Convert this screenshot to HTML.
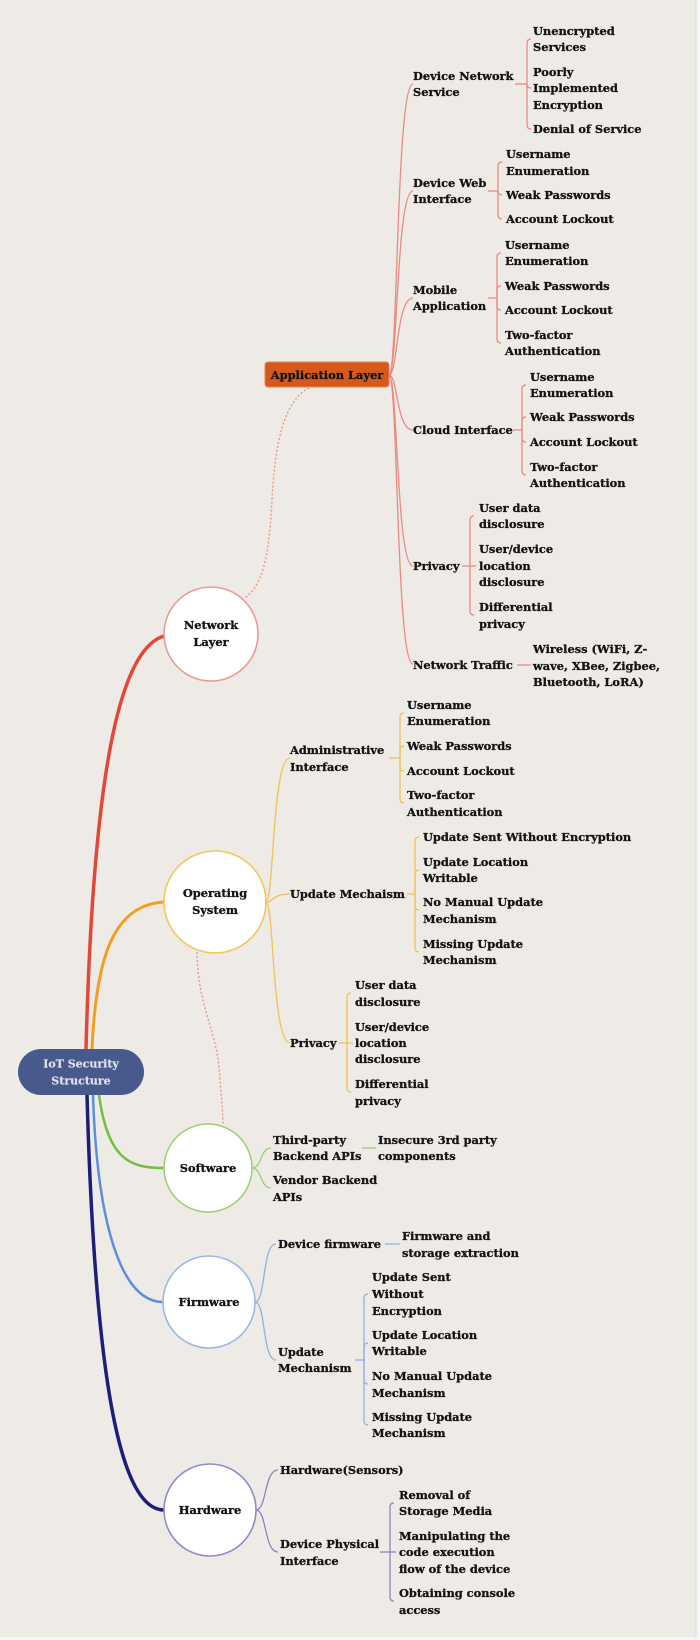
<!DOCTYPE html>
<html>
<head>
<meta charset="utf-8">
<style>
html,body{margin:0;padding:0;background:#eeeae5;}
svg{display:block;}
.t{font-family:"DejaVu Serif","Liberation Serif",serif;font-weight:bold;font-size:11.4px;fill:#141414;stroke:#141414;stroke-width:0.3;dominant-baseline:central;}
.c{text-anchor:middle;}
.r{stroke:#ea8b80;fill:none;stroke-width:1.3;}
.o{stroke:#f1c256;fill:none;stroke-width:1.3;}
.g{stroke:#98cd78;fill:none;stroke-width:1.3;}
.b{stroke:#92b2e2;fill:none;stroke-width:1.3;}
.n{stroke:#8886c4;fill:none;stroke-width:1.3;}
</style>
</head>
<body>
<svg width="700" height="1640" viewBox="0 0 700 1640" xmlns="http://www.w3.org/2000/svg">
<rect x="0" y="0" width="700" height="1640" fill="#eeeae5"/>
<rect x="696" y="0" width="4" height="1640" fill="#f6f6f6"/>
<line x1="696" y1="0" x2="696" y2="1640" stroke="#dcdcdc" stroke-width="1"/>
<rect x="0" y="1637" width="700" height="3" fill="#f6f6f6"/>

<!-- main branches -->
<path d="M86,1049 C 93,780 118,650 164,636" stroke="#e0483a" stroke-width="3.5" fill="none"/>
<path d="M92,1049 C 96,960 112,905 164,902" stroke="#f0a01e" stroke-width="3" fill="none"/>
<path d="M99,1095 C 108,1160 130,1168 164,1168" stroke="#72bf44" stroke-width="2.5" fill="none"/>
<path d="M93,1095 C 97,1220 120,1302 163,1302" stroke="#5b8fd8" stroke-width="2.5" fill="none"/>
<path d="M87,1095 C 95,1380 120,1510 164,1510" stroke="#1e1e78" stroke-width="3.5" fill="none"/>

<!-- dotted links -->
<path d="M309,388 C 285,400 275,440 272,500 C 269,560 262,585 245,598" stroke="#e8967a" stroke-width="1.3" stroke-dasharray="2,2" fill="none"/>
<path d="M197,952 C 198,1010 218,1030 220,1080 C 222,1105 223,1115 223,1125" stroke="#e8967a" stroke-width="1.3" stroke-dasharray="2,2" fill="none"/>

<!-- Application layer spine -->
<g class="r">
<path d="M389,375 C 398,375 396,84 413,84"/>
<path d="M389,375 C 398,375 396,191 413,191"/>
<path d="M389,375 C 398,375 396,298 413,298"/>
<path d="M389,375 C 398,375 396,430 413,430"/>
<path d="M389,375 C 398,375 396,566 413,566"/>
<path d="M389,375 C 398,375 396,664 413,664"/>
<!-- DNS bracket -->
<path d="M515,84 L527,84"/>
<path d="M527,84 L527,43 Q527,39 531,39"/>
<path d="M527,84 Q527,88 531,88"/>
<path d="M527,84 L527,125 Q527,129 531,129"/>
<!-- DWI -->
<path d="M488,191 L498,191"/>
<path d="M498,191 L498,166 Q498,162 502,162"/>
<path d="M498,191 Q498,195 502,195"/>
<path d="M498,191 L498,215 Q498,219 502,219"/>
<!-- Mobile -->
<path d="M488,298 L497,298"/>
<path d="M497,298 L497,257 Q497,253 501,253"/>
<path d="M497,298 L497,290 Q497,286 501,286"/>
<path d="M497,298 L497,306 Q497,310 501,310"/>
<path d="M497,298 L497,339 Q497,343 501,343"/>
<!-- Cloud -->
<path d="M513,430 L522,430"/>
<path d="M522,430 L522,389 Q522,385 526,385"/>
<path d="M522,430 L522,421 Q522,417 526,417"/>
<path d="M522,430 L522,438 Q522,442 526,442"/>
<path d="M522,430 L522,471 Q522,475 526,475"/>
<!-- Privacy -->
<path d="M462,566 L470,566"/>
<path d="M470,566 L470,520 Q470,516 474,516"/>
<path d="M470,566 L476,566"/>
<path d="M470,566 L470,611 Q470,615 474,615"/>
<!-- Network traffic -->
<path d="M517,665 L531,665"/>
</g>

<!-- OS subtree -->
<g class="o">
<path d="M266,902 C 274,902 272,758 290,758"/>
<path d="M266,902 C 274,902 272,894 290,894"/>
<path d="M266,902 C 274,902 272,1043 290,1043"/>
<path d="M389,758 L400,758"/>
<path d="M400,758 L400,717 Q400,713 404,713"/>
<path d="M400,758 L400,750 Q400,746 404,746"/>
<path d="M400,758 L400,767 Q400,771 404,771"/>
<path d="M400,758 L400,799 Q400,803 404,803"/>
<path d="M407,894 L415,894"/>
<path d="M415,894 L415,841 Q415,837 419,837"/>
<path d="M415,894 L415,874 Q415,870 419,870"/>
<path d="M415,894 L415,906 Q415,910 419,910"/>
<path d="M415,894 L415,948 Q415,952 419,952"/>
<path d="M339,1043 L347,1043"/>
<path d="M347,1043 L347,997 Q347,993 351,993"/>
<path d="M347,1043 L353,1043"/>
<path d="M347,1043 L347,1088 Q347,1092 351,1092"/>
</g>

<!-- Software subtree -->
<g class="g">
<path d="M252,1168 C 262,1168 260,1148 271,1148"/>
<path d="M252,1168 C 262,1168 260,1188 271,1188"/>
<path d="M362,1148 L376,1148"/>
</g>

<!-- Firmware subtree -->
<g class="b">
<path d="M255,1302 C 266,1302 262,1244 276,1244"/>
<path d="M255,1302 C 266,1302 262,1360 276,1360"/>
<path d="M385,1244 L400,1244"/>
<path d="M355,1360 L364,1360"/>
<path d="M364,1360 L364,1298 Q364,1294 368,1294"/>
<path d="M364,1360 L364,1347 Q364,1343 368,1343"/>
<path d="M364,1360 L364,1380 Q364,1384 368,1384"/>
<path d="M364,1360 L364,1421 Q364,1425 368,1425"/>
</g>

<!-- Hardware subtree -->
<g class="n">
<path d="M256,1510 C 267,1510 264,1470 278,1470"/>
<path d="M256,1510 C 267,1510 264,1552 278,1552"/>
<path d="M380,1552 L390,1552"/>
<path d="M390,1552 L390,1507 Q390,1503 394,1503"/>
<path d="M390,1552 L396,1552"/>
<path d="M390,1552 L390,1597 Q390,1601 394,1601"/>
</g>

<!-- Nodes -->
<rect x="18" y="1049" width="126" height="46" rx="23" ry="23" fill="#485a8c"/>
<text class="t c" x="81" y="1064" style="fill:#dfe1ea;stroke:#dfe1ea;stroke-width:0.2;font-size:11px">IoT Security</text>
<text class="t c" x="81" y="1081" style="fill:#dfe1ea;stroke:#dfe1ea;stroke-width:0.2;font-size:11px">Structure</text>

<circle cx="211" cy="634" r="47" fill="#ffffff" stroke="#e99c94" stroke-width="1.6"/>
<text class="t c" x="211" y="625">Network</text>
<text class="t c" x="211" y="642">Layer</text>

<circle cx="215" cy="902" r="51" fill="#ffffff" stroke="#f2c75c" stroke-width="1.6"/>
<text class="t c" x="215" y="893">Operating</text>
<text class="t c" x="215" y="910">System</text>

<circle cx="208" cy="1168" r="44" fill="#ffffff" stroke="#9ed07e" stroke-width="1.6"/>
<text class="t c" x="208" y="1168">Software</text>

<circle cx="209" cy="1302" r="46" fill="#ffffff" stroke="#9ab8e6" stroke-width="1.6"/>
<text class="t c" x="209" y="1302">Firmware</text>

<circle cx="210" cy="1510" r="46" fill="#ffffff" stroke="#8e8cc8" stroke-width="1.6"/>
<text class="t c" x="210" y="1510">Hardware</text>

<rect x="265" y="362" width="124" height="25" rx="3" ry="3" fill="#d6581a" stroke="#e8844e" stroke-width="1"/>
<text class="t c" x="327" y="375">Application Layer</text>

<!-- Network layer texts -->
<text class="t" x="413" y="76">Device Network</text>
<text class="t" x="413" y="92">Service</text>
<text class="t" x="533" y="31">Unencrypted</text>
<text class="t" x="533" y="47">Services</text>
<text class="t" x="533" y="72">Poorly</text>
<text class="t" x="533" y="88">Implemented</text>
<text class="t" x="533" y="105">Encryption</text>
<text class="t" x="533" y="129">Denial of Service</text>

<text class="t" x="413" y="183">Device Web</text>
<text class="t" x="413" y="199">Interface</text>
<text class="t" x="506" y="154">Username</text>
<text class="t" x="506" y="171">Enumeration</text>
<text class="t" x="506" y="195">Weak Passwords</text>
<text class="t" x="506" y="219">Account Lockout</text>

<text class="t" x="413" y="290">Mobile</text>
<text class="t" x="413" y="306">Application</text>
<text class="t" x="505" y="245">Username</text>
<text class="t" x="505" y="261">Enumeration</text>
<text class="t" x="505" y="286">Weak Passwords</text>
<text class="t" x="505" y="310">Account Lockout</text>
<text class="t" x="505" y="335">Two-factor</text>
<text class="t" x="505" y="351">Authentication</text>

<text class="t" x="413" y="430">Cloud Interface</text>
<text class="t" x="530" y="377">Username</text>
<text class="t" x="530" y="393">Enumeration</text>
<text class="t" x="530" y="417">Weak Passwords</text>
<text class="t" x="530" y="442">Account Lockout</text>
<text class="t" x="530" y="467">Two-factor</text>
<text class="t" x="530" y="483">Authentication</text>

<text class="t" x="413" y="566">Privacy</text>
<text class="t" x="479" y="508">User data</text>
<text class="t" x="479" y="524">disclosure</text>
<text class="t" x="479" y="549">User/device</text>
<text class="t" x="479" y="566">location</text>
<text class="t" x="479" y="582">disclosure</text>
<text class="t" x="479" y="607">Differential</text>
<text class="t" x="479" y="624">privacy</text>

<text class="t" x="413" y="665">Network Traffic</text>
<text class="t" x="533" y="649">Wireless (WiFi, Z-</text>
<text class="t" x="533" y="666">wave, XBee, Zigbee,</text>
<text class="t" x="533" y="682">Bluetooth, LoRA)</text>

<!-- OS texts -->
<text class="t" x="290" y="750">Administrative</text>
<text class="t" x="290" y="767">Interface</text>
<text class="t" x="407" y="705">Username</text>
<text class="t" x="407" y="721">Enumeration</text>
<text class="t" x="407" y="746">Weak Passwords</text>
<text class="t" x="407" y="771">Account Lockout</text>
<text class="t" x="407" y="795">Two-factor</text>
<text class="t" x="407" y="812">Authentication</text>

<text class="t" x="290" y="894">Update Mechaism</text>
<text class="t" x="423" y="837">Update Sent Without Encryption</text>
<text class="t" x="423" y="862">Update Location</text>
<text class="t" x="423" y="878">Writable</text>
<text class="t" x="423" y="902">No Manual Update</text>
<text class="t" x="423" y="919">Mechanism</text>
<text class="t" x="423" y="944">Missing Update</text>
<text class="t" x="423" y="960">Mechanism</text>

<text class="t" x="290" y="1043">Privacy</text>
<text class="t" x="355" y="985">User data</text>
<text class="t" x="355" y="1002">disclosure</text>
<text class="t" x="355" y="1027">User/device</text>
<text class="t" x="355" y="1043">location</text>
<text class="t" x="355" y="1059">disclosure</text>
<text class="t" x="355" y="1084">Differential</text>
<text class="t" x="355" y="1101">privacy</text>

<!-- Software texts -->
<text class="t" x="273" y="1140">Third-party</text>
<text class="t" x="273" y="1156">Backend APIs</text>
<text class="t" x="378" y="1140">Insecure 3rd party</text>
<text class="t" x="378" y="1156">components</text>
<text class="t" x="273" y="1180">Vendor Backend</text>
<text class="t" x="273" y="1197">APIs</text>

<!-- Firmware texts -->
<text class="t" x="278" y="1244">Device firmware</text>
<text class="t" x="402" y="1236">Firmware and</text>
<text class="t" x="402" y="1253">storage extraction</text>
<text class="t" x="278" y="1352">Update</text>
<text class="t" x="278" y="1368">Mechanism</text>
<text class="t" x="372" y="1277">Update Sent</text>
<text class="t" x="372" y="1294">Without</text>
<text class="t" x="372" y="1311">Encryption</text>
<text class="t" x="372" y="1335">Update Location</text>
<text class="t" x="372" y="1351">Writable</text>
<text class="t" x="372" y="1376">No Manual Update</text>
<text class="t" x="372" y="1393">Mechanism</text>
<text class="t" x="372" y="1417">Missing Update</text>
<text class="t" x="372" y="1433">Mechanism</text>

<!-- Hardware texts -->
<text class="t" x="280" y="1470">Hardware(Sensors)</text>
<text class="t" x="280" y="1544">Device Physical</text>
<text class="t" x="280" y="1561">Interface</text>
<text class="t" x="399" y="1495">Removal of</text>
<text class="t" x="399" y="1511">Storage Media</text>
<text class="t" x="399" y="1536">Manipulating the</text>
<text class="t" x="399" y="1552">code execution</text>
<text class="t" x="399" y="1569">flow of the device</text>
<text class="t" x="399" y="1593">Obtaining console</text>
<text class="t" x="399" y="1610">access</text>
</svg>
</body>
</html>
